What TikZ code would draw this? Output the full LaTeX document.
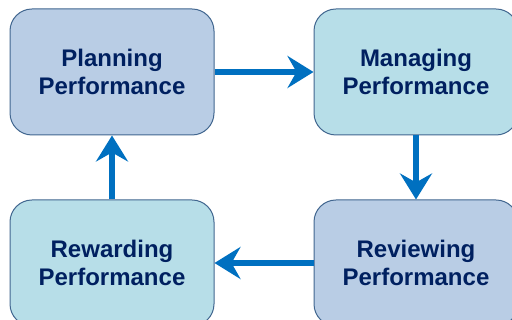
\documentclass[tikz,border=0pt]{standalone}
\usepackage{fontspec}
\setmainfont{Liberation Sans}
\usetikzlibrary{arrows.meta}
\definecolor{boxblue}{HTML}{B9CDE5}
\definecolor{boxcyan}{HTML}{B7DEE8}
\definecolor{boxline}{HTML}{41668F}
\definecolor{textnavy}{HTML}{002060}
\definecolor{arrowblue}{HTML}{0070C0}
\tikzset{
	stage/.style={draw=boxline, line width=1pt, rounded corners=22pt, minimum width=204pt, minimum height=126pt, inner sep=0pt, align=center, text=textnavy, font=\fontsize{24}{28}\selectfont\bfseries},
	flow/.style={arrowblue, line width=6pt, -{Stealth[length=26pt,width=32pt,inset=9pt]}}
}

\begin{document}
\begin{tikzpicture}[x=1pt,y=1pt]
	\useasboundingbox (0,0) rectangle (512,320);
	\clip (0,0) rectangle (512,320);
	\node[stage, fill=boxblue] (plan) at (112,248) {Planning\\Performance};
	\node[stage, fill=boxcyan] (manage) at (416,248) {Managing\\Performance};
	\node[stage, fill=boxblue] (review) at (416,57) {Reviewing\\Performance};
	\node[stage, fill=boxcyan] (reward) at (112,57) {Rewarding\\Performance};
	\draw[flow] (plan.east) -- (manage.west);
	\draw[flow] (manage.south) -- (review.north);
	\draw[flow] (review.west) -- (reward.east);
	\draw[flow] (reward.north) -- (plan.south);
\end{tikzpicture}
\end{document}
